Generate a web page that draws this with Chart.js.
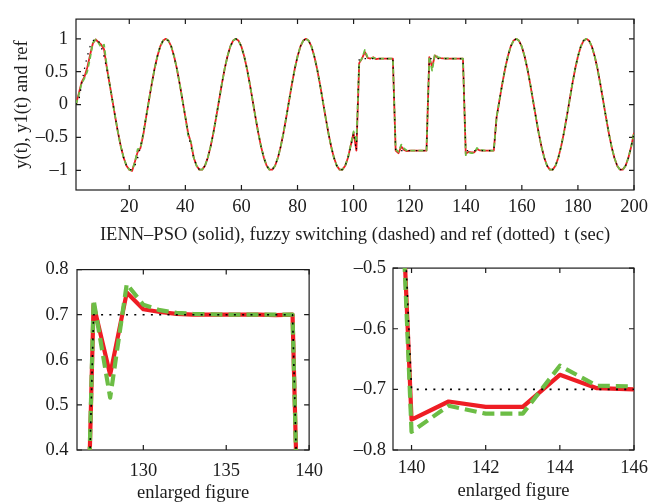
<!DOCTYPE html>
<html>
<head>
<meta charset="utf-8">
<script src="https://cdn.jsdelivr.net/npm/chart.js@4/dist/chart.umd.min.js"></script>
<style>
  html, body { margin: 0; padding: 0; background: #fff; }
  #wrap { position: relative; width: 666px; height: 504px; background: #fff; }
  #wrap canvas { position: absolute; }
</style>
</head>
<body>
<div id="wrap">
  <canvas id="overview" width="666" height="250" style="left:0;top:0"></canvas>
  <canvas id="zoomHigh" width="333" height="254" style="left:0;top:250px"></canvas>
  <canvas id="zoomLow" width="333" height="254" style="left:333px;top:250px"></canvas>
</div>
<script>
// sample times (s), one sample per second
const tSec = Array.from({ length: 200 }, (_, i) => i + 1);

// reference signal: sine, then +-0.7 square stretch (101..150), then sine again
const refSignal = [
  0, 0.06, 0.31, 0.54, 0.73, 0.88, 0.97, 1.00, 0.97, 0.88, 0.73, 0.54, 0.31, 0.06, -0.19, -0.43, -0.64, -0.81, -0.93, -0.99, -0.99, -0.93, -0.81, -0.64, -0.43, -0.19,
  0.06, 0.31, 0.54, 0.73, 0.88, 0.97, 1.00, 0.97, 0.88, 0.73, 0.54, 0.31, 0.06, -0.19, -0.43, -0.64, -0.81, -0.93, -0.99, -0.99, -0.93, -0.81, -0.64, -0.43, -0.19,
  0.06, 0.31, 0.54, 0.73, 0.88, 0.97, 1.00, 0.97, 0.88, 0.73, 0.54, 0.31, 0.06, -0.19, -0.43, -0.64, -0.81, -0.93, -0.99, -0.99, -0.93, -0.81, -0.64, -0.43, -0.19,
  0.06, 0.31, 0.54, 0.73, 0.88, 0.97, 1.00, 0.97, 0.88, 0.73, 0.54, 0.31, 0.06, -0.19, -0.43, -0.64, -0.81, -0.93, -0.99, -0.99, -0.93, -0.81, -0.64, -0.43,
  -0.70, 0.70, 0.70, 0.70, 0.70, 0.70, 0.70, 0.70, 0.70, 0.70, 0.70, 0.70, 0.70, 0.70,
  -0.70, -0.70, -0.70, -0.70, -0.70, -0.70, -0.70, -0.70, -0.70, -0.70, -0.70, -0.70,
  0.70, 0.70, 0.70, 0.70, 0.70, 0.70, 0.70, 0.70, 0.70, 0.70, 0.70, 0.70, 0.70,
  -0.70, -0.70, -0.70, -0.70, -0.70, -0.70, -0.70, -0.70, -0.70, -0.70, -0.70,
  -0.19,
  0.06, 0.31, 0.54, 0.73, 0.88, 0.97, 1.00, 0.97, 0.88, 0.73, 0.54, 0.31, 0.06, -0.19, -0.43, -0.64, -0.81, -0.93, -0.99, -0.99, -0.93, -0.81, -0.64, -0.43, -0.19,
  0.06, 0.31, 0.54, 0.73, 0.88, 0.97, 1.00, 0.97, 0.88, 0.73, 0.54, 0.31, 0.06, -0.19, -0.43, -0.64, -0.81, -0.93, -0.99, -0.99, -0.93, -0.81, -0.64, -0.43
];

// y(t): IENN-PSO controller output (solid)
const iennPso = [
  0, 0.17, 0.34, 0.42, 0.56, 0.75, 0.93, 0.99, 0.95, 0.91, 0.84, 0.56, 0.31, 0.06, -0.19, -0.43, -0.64, -0.81, -0.93, -0.99, -1.01, -0.87, -0.72, -0.66, -0.46, -0.19,
  0.06, 0.31, 0.54, 0.73, 0.88, 0.97, 1.00, 0.97, 0.88, 0.73, 0.54, 0.31, 0.06, -0.19, -0.44, -0.58, -0.81, -0.93, -0.99, -0.99, -0.93, -0.81, -0.64, -0.43, -0.19,
  0.06, 0.31, 0.54, 0.73, 0.88, 0.97, 1.00, 0.97, 0.88, 0.73, 0.54, 0.31, 0.06, -0.19, -0.43, -0.64, -0.81, -0.93, -0.99, -0.99, -0.93, -0.81, -0.64, -0.43, -0.19,
  0.06, 0.31, 0.54, 0.73, 0.88, 0.97, 1.00, 0.97, 0.88, 0.73, 0.54, 0.31, 0.06, -0.19, -0.43, -0.64, -0.81, -0.93, -0.99, -0.99, -0.93, -0.81, -0.62, -0.43,
  -0.70, 0.63, 0.70, 0.80, 0.71, 0.70, 0.72, 0.69, 0.70, 0.70, 0.70, 0.70, 0.70, 0.70,
  -0.70, -0.74, -0.64, -0.69, -0.71, -0.70, -0.70, -0.70, -0.70, -0.70, -0.70, -0.70,
  0.722, 0.567, 0.749, 0.712, 0.706, 0.702, 0.700, 0.700, 0.700, 0.700, 0.700, 0.699, 0.700,
  -0.750, -0.720, -0.729, -0.729, -0.676, -0.698, -0.700, -0.700, -0.700, -0.700, -0.700,
  -0.19,
  0.06, 0.31, 0.54, 0.73, 0.88, 0.97, 1.00, 0.97, 0.88, 0.73, 0.54, 0.31, 0.06, -0.19, -0.43, -0.64, -0.81, -0.93, -0.99, -0.99, -0.93, -0.81, -0.64, -0.43, -0.19,
  0.06, 0.31, 0.54, 0.73, 0.88, 0.97, 1.00, 0.97, 0.88, 0.73, 0.54, 0.31, 0.06, -0.19, -0.43, -0.64, -0.81, -0.93, -0.99, -0.99, -0.93, -0.81, -0.64, -0.43
];

// y1(t): fuzzy switching controller output (dashed)
const fuzzySwitch = [
  0, 0.15, 0.32, 0.40, 0.50, 0.70, 0.94, 0.99, 0.94, 0.87, 0.91, 0.58, 0.31, 0.06, -0.19, -0.43, -0.64, -0.81, -0.93, -0.99, -1.00, -0.88, -0.68, -0.67, -0.44, -0.19,
  0.06, 0.31, 0.54, 0.73, 0.88, 0.97, 1.00, 0.97, 0.88, 0.73, 0.54, 0.31, 0.06, -0.19, -0.47, -0.57, -0.81, -0.93, -0.99, -0.99, -0.93, -0.81, -0.64, -0.43, -0.19,
  0.06, 0.31, 0.54, 0.73, 0.88, 0.97, 1.00, 0.97, 0.88, 0.73, 0.54, 0.31, 0.06, -0.19, -0.43, -0.64, -0.81, -0.93, -0.99, -0.99, -0.93, -0.81, -0.64, -0.43, -0.19,
  0.06, 0.31, 0.54, 0.73, 0.88, 0.97, 1.00, 0.97, 0.88, 0.73, 0.54, 0.31, 0.06, -0.19, -0.43, -0.64, -0.81, -0.93, -0.99, -0.99, -0.93, -0.81, -0.61, -0.41,
  -0.58, 0.64, 0.70, 0.83, 0.72, 0.71, 0.71, 0.70, 0.70, 0.70, 0.70, 0.70, 0.70, 0.70,
  -0.68, -0.72, -0.61, -0.67, -0.70, -0.70, -0.70, -0.70, -0.70, -0.70, -0.70, -0.70,
  0.733, 0.516, 0.768, 0.722, 0.710, 0.704, 0.702, 0.701, 0.700, 0.700, 0.700, 0.700, 0.700,
  -0.770, -0.727, -0.740, -0.740, -0.661, -0.694, -0.695, -0.700, -0.700, -0.700, -0.700,
  -0.19,
  0.06, 0.31, 0.54, 0.73, 0.88, 0.97, 1.00, 0.97, 0.88, 0.73, 0.54, 0.31, 0.06, -0.19, -0.43, -0.64, -0.81, -0.93, -0.99, -0.99, -0.93, -0.81, -0.64, -0.43, -0.19,
  0.06, 0.31, 0.54, 0.73, 0.88, 0.97, 1.00, 0.97, 0.88, 0.73, 0.54, 0.31, 0.06, -0.19, -0.43, -0.64, -0.81, -0.93, -0.99, -0.99, -0.93, -0.81, -0.64, -0.43
];

// tick positions
const overviewXTicks = [20, 40, 60, 80, 100, 120, 140, 160, 180, 200];
const overviewYTicks = [-1, -0.5, 0, 0.5, 1];
const highXTicks = [130, 135, 140];
const highYTicks = [0.4, 0.5, 0.6, 0.7, 0.8];
const lowXTicks = [140, 142, 144, 146];
const lowYTicks = [-0.8, -0.7, -0.6, -0.5];

const RED = '#ee1d24';
const GREEN = '#6cbd45';
const INK = '#1c1c1c';
const SERIF = "'Liberation Serif', 'Times New Roman', serif";
const FONT_SIZE = 18.5;

const toPoints = vals => vals.map((v, i) => ({ x: tSec[i], y: v }));
const fmt = v => String(v).replace('-', '\u2013');

// box round the plot with inward ticks on all four sides
const boxFrame = {
  id: 'boxFrame',
  beforeDatasetsDraw(chart) {
    const { ctx, chartArea: a, scales: { x, y } } = chart;
    const len = 5;
    ctx.save();
    ctx.strokeStyle = INK;
    ctx.lineWidth = 1.2;
    ctx.strokeRect(a.left, a.top, a.right - a.left, a.bottom - a.top);
    ctx.beginPath();
    x.ticks.forEach((tk, i) => {
      const px = x.getPixelForTick(i);
      ctx.moveTo(px, a.bottom); ctx.lineTo(px, a.bottom - len);
      ctx.moveTo(px, a.top); ctx.lineTo(px, a.top + len);
    });
    y.ticks.forEach((tk, i) => {
      const py = y.getPixelForTick(i);
      ctx.moveTo(a.left, py); ctx.lineTo(a.left + len, py);
      ctx.moveTo(a.right, py); ctx.lineTo(a.right - len, py);
    });
    ctx.stroke();
    ctx.restore();
  }
};

function makeChart(id, o) {
  const font = { family: SERIF, size: FONT_SIZE };
  return new Chart(document.getElementById(id), {
    type: 'line',
    data: {
      datasets: [
        { data: toPoints(refSignal), borderColor: '#000', borderWidth: o.dotWidth, borderDash: o.dotDash, order: 1 },
        { data: toPoints(fuzzySwitch), borderColor: GREEN, borderWidth: o.lineWidth, borderDash: o.dash, order: 2 },
        { data: toPoints(iennPso), borderColor: RED, borderWidth: o.lineWidth, order: 3 }
      ]
    },
    options: {
      responsive: false,
      animation: false,
      devicePixelRatio: 1,
      events: [],
      layout: { padding: o.padding },
      elements: {
        point: { radius: 0 },
        line: { tension: 0, borderJoinStyle: 'round', fill: false }
      },
      datasets: { line: { clip: 0 } },
      plugins: { legend: { display: false }, tooltip: { enabled: false } },
      scales: {
        x: {
          type: 'linear',
          min: o.xMin, max: o.xMax,
          grid: { display: false, drawTicks: false },
          border: { display: false },
          afterBuildTicks: s => { s.ticks = o.xTicks.map(v => ({ value: v })); },
          afterFit: s => { s.height = o.xHeight; },
          ticks: { autoSkip: false, maxRotation: 0, padding: o.xPad, color: INK, font, callback: fmt },
          title: { display: true, text: o.xTitle, color: INK, font, padding: { top: 0, bottom: o.xTitlePad } }
        },
        y: {
          type: 'linear',
          min: o.yMin, max: o.yMax,
          grid: { display: false, drawTicks: false },
          border: { display: false },
          afterBuildTicks: s => { s.ticks = o.yTicks.map(v => ({ value: v })); },
          afterFit: s => { s.width = o.yWidth; },
          ticks: { autoSkip: false, padding: o.yPad, color: INK, font, callback: fmt },
          title: { display: !!o.yTitle, text: o.yTitle || '', color: INK, font, padding: { top: 11, bottom: 0 } }
        }
      }
    },
    plugins: [boxFrame]
  });
}

// whole run, 0-200 s
makeChart('overview', {
  xMin: 1, xMax: 200, yMin: -1.3, yMax: 1.3,
  xTicks: overviewXTicks, yTicks: overviewYTicks,
  padding: { left: 0, top: 10, right: 32, bottom: 0 },
  xHeight: 60, yWidth: 76, xPad: 6, yPad: 8, xTitlePad: 4,
  xTitle: 'IENN\u2013PSO (solid), fuzzy switching (dashed) and ref (dotted)  t (sec)',
  yTitle: 'y(t), y1(t) and ref',
  lineWidth: 1.8, dash: [5, 3], dotWidth: 1.3, dotDash: [1.4, 6]
});

// close-up of the +0.7 step
makeChart('zoomHigh', {
  xMin: 126, xMax: 140, yMin: 0.4, yMax: 0.8,
  xTicks: highXTicks, yTicks: highYTicks,
  padding: { left: 0, top: 16, right: 16, bottom: 0 },
  xHeight: 54, yWidth: 77, xPad: 10, yPad: 8.5, xTitlePad: 0,
  xTitle: 'enlarged figure',
  lineWidth: 4.2, dash: [12, 6], dotWidth: 1.6, dotDash: [2, 6.3]
});

// close-up of the -0.7 step
makeChart('zoomLow', {
  xMin: 139.5, xMax: 146, yMin: -0.8, yMax: -0.5,
  xTicks: lowXTicks, yTicks: lowYTicks,
  padding: { left: 0, top: 16, right: 32, bottom: 0 },
  xHeight: 54, yWidth: 60, xPad: 7.5, yPad: 7, xTitlePad: 2,
  xTitle: 'enlarged figure',
  lineWidth: 4.2, dash: [12, 6], dotWidth: 1.6, dotDash: [2, 6.3]
});
</script>
</body>
</html>
